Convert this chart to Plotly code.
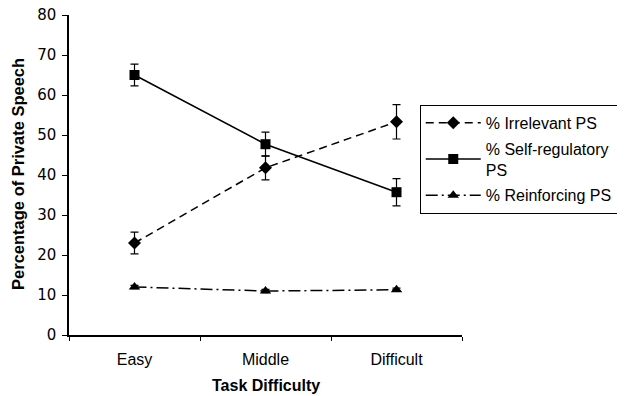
import plotly.graph_objects as go

categories = ["Easy", "Middle", "Difficult"]
irrelevant = [23.0, 41.8, 53.3]
irrelevant_err = [2.7, 3.0, 4.3]
selfreg = [65.0, 47.7, 35.7]
selfreg_err = [2.7, 3.0, 3.4]
reinforcing = [12.0, 11.0, 11.3]
reinforcing_err = [0.4, 0.4, 0.4]
y_ticks = [0, 10, 20, 30, 40, 50, 60, 70, 80]

# the page body has an 8px default margin; size the figure to compensate
OFF = 8

fig = go.Figure()

def add(name, y, err, symbol, dash, size, group):
    fig.add_trace(go.Scatter(
        x=categories, y=y, name=name, mode="lines+markers", legendgroup=group,
        line=dict(color="black", width=1.5, dash=dash),
        marker=dict(symbol=symbol, size=size, color="black"),
        error_y=dict(type="data", array=err, visible=True, color="black", thickness=1.2, width=4),
    ))

add("% Irrelevant PS", irrelevant, irrelevant_err, "diamond", "8px,5px", 10, "a")
add("% Self-regulatory<br>PS", selfreg, selfreg_err, "square", "solid", 10, "b")
add("% Reinforcing PS", reinforcing, reinforcing_err, "triangle-up", "12px,4px,2px,4px", 10, "c")

fig.update_layout(
    width=625 - OFF, height=396 - OFF,
    margin=dict(l=69 - OFF, r=156, t=15 - OFF, b=61),
    paper_bgcolor="white", plot_bgcolor="white",
    font=dict(family="Liberation Sans, Arial", size=16, color="black"),
    showlegend=True,
    legend=dict(x=0.8925, y=0.719, xanchor="left", yanchor="top",
                bordercolor="black", borderwidth=1,
                font=dict(family="Liberation Sans, Arial", size=16),
                itemwidth=55, tracegroupgap=2),
    xaxis=dict(
        type="category", range=[-0.5, 2.5], tickson="boundaries",
        showline=True, linecolor="black", linewidth=1.5,
        ticks="outside", ticklen=4, tickcolor="black",
        showgrid=False, zeroline=False, automargin=False,
        tickfont=dict(family="Liberation Sans, Arial", size=16),
        ticklabelstandoff=9, ticklabeloverflow="allow",
    ),
    yaxis=dict(
        range=[0, 80], tickvals=y_ticks,
        showline=True, linecolor="black", linewidth=1.5,
        ticks="outside", ticklen=5, tickcolor="black",
        showgrid=False, zeroline=False, automargin=False,
        tickfont=dict(family="DejaVu Sans, Verdana", size=15),
        ticklabelstandoff=3, ticklabeloverflow="allow",
    ),
    annotations=[
        dict(text="<b>Task Difficulty</b>", xref="paper", yref="paper",
             x=0.5, y=(335 - 385) / 320.0, xanchor="center", yanchor="middle",
             showarrow=False, font=dict(family="Liberation Sans, Arial", size=16)),
        dict(text="<b>Percentage of Private Speech</b>", xref="paper", yref="paper",
             x=(17 - 69) / 400.0, y=(335 - 174) / 320.0, xanchor="center", yanchor="middle",
             textangle=-90, showarrow=False,
             font=dict(family="Liberation Sans, Arial", size=16.5)),
    ],
)

fig.write_html("out.html")
